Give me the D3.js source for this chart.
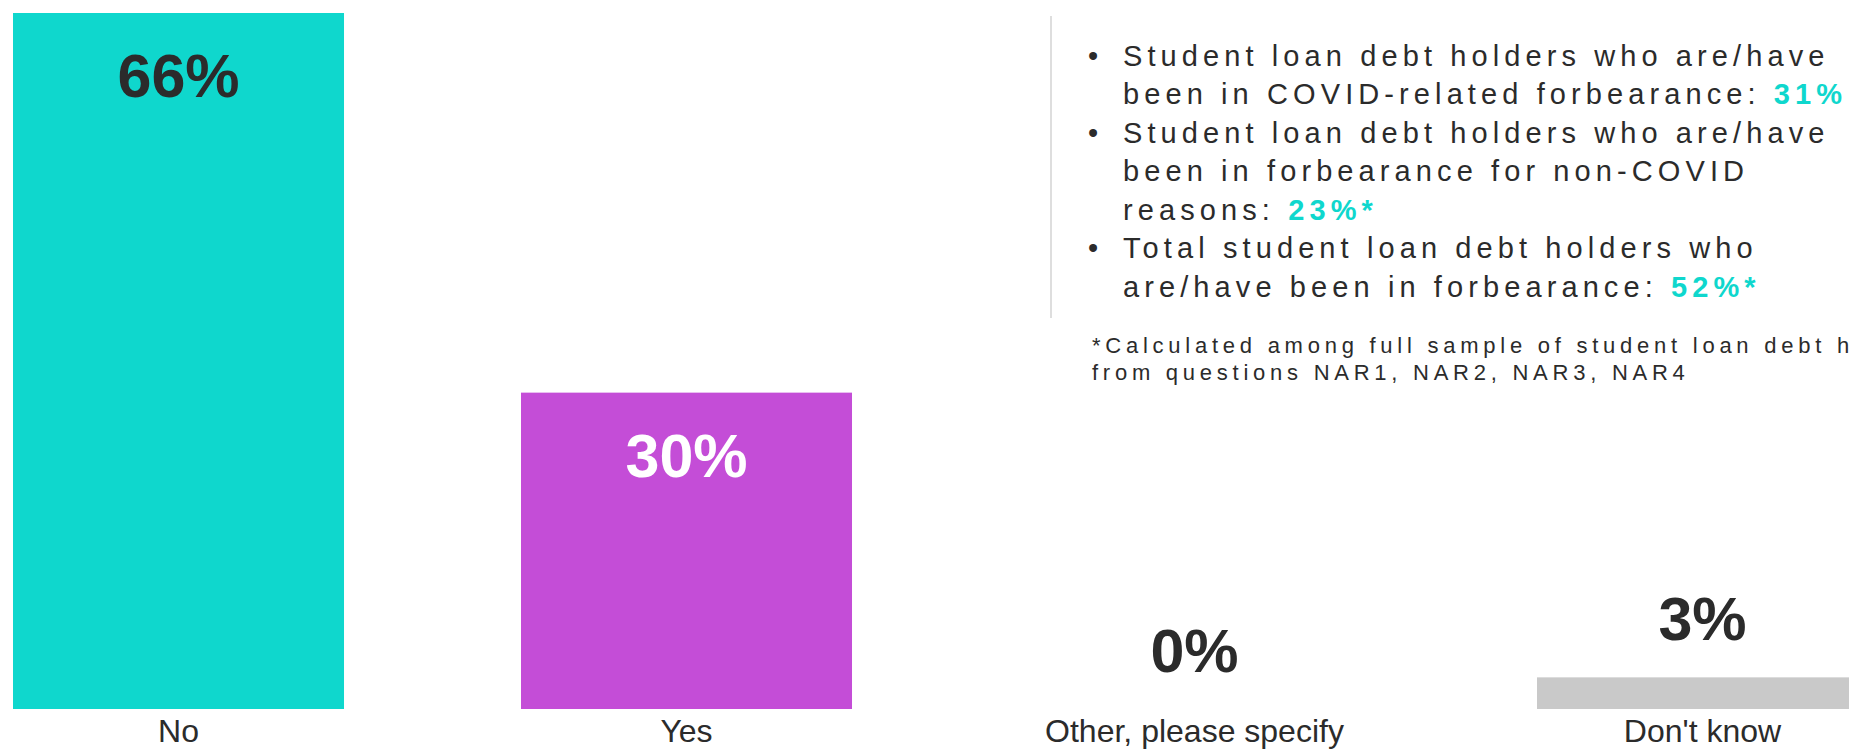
<!DOCTYPE html>
<html>
<head>
<meta charset="utf-8">
<script src="https://cdn.jsdelivr.net/npm/d3@7"></script>
<style>
  html, body { margin: 0; padding: 0; background: #fff; overflow: hidden; }
  svg { display: block; font-family: "Liberation Sans", Arial, sans-serif; }
</style>
</head>
<body>
<svg id="chart" width="1849" height="749"></svg>
<script>
// Survey answers and their shares (%)
const categories = ["No", "Yes", "Other, please specify", "Don't know"];
const shares = [66, 30, 0, 3];
const barColors = ["#0fd7cd", "#c44dd7", "#c9c9c9", "#c9c9c9"];
const labelColors = ["#2b2b2b", "#ffffff", "#2b2b2b", "#2b2b2b"];

// Side notes: plain text lines, with a highlighted figure on some lines
const noteLines = [
  { bullet: true,  text: "Student loan debt holders who are/have", figure: null },
  { bullet: false, text: "been in COVID-related forbearance: ", figure: "31%" },
  { bullet: true,  text: "Student loan debt holders who are/have", figure: null },
  { bullet: false, text: "been in forbearance for non-COVID", figure: null },
  { bullet: false, text: "reasons: ", figure: "23%*" },
  { bullet: true,  text: "Total student loan debt holders who", figure: null },
  { bullet: false, text: "are/have been in forbearance: ", figure: "52%*" }
];
const footnoteLines = [
  "*Calculated among full sample of student loan debt holders",
  "from questions NAR1, NAR2, NAR3, NAR4"
];

const teal = "#0fd7cd";
const ink = "#2b2b2b";

const svg = d3.select("#chart");

const x = d3.scaleBand()
  .domain(categories)
  .range([13, 1868])
  .paddingInner(0.3484)
  .paddingOuter(0);

const y = d3.scaleLinear()
  .domain([0, 66])
  .range([709, 13]);

const data = categories.map((c, i) => ({ cat: c, v: shares[i], color: barColors[i], lc: labelColors[i] }));

// Bars
svg.append("g")
  .selectAll("rect")
  .data(data)
  .join("rect")
  .attr("x", d => x(d.cat))
  .attr("y", d => y(d.v))
  .attr("width", x.bandwidth())
  .attr("height", d => y(0) - y(d.v))
  .attr("fill", d => d.color);

// Value labels: inside tall bars, above short ones
svg.append("g")
  .selectAll("text")
  .data(data)
  .join("text")
  .attr("x", d => x(d.cat) + x.bandwidth() / 2)
  .attr("y", d => (y(0) - y(d.v) > 150) ? y(d.v) + 84 : y(d.v) - 37)
  .attr("text-anchor", "middle")
  .attr("font-size", 61)
  .attr("font-weight", "bold")
  .attr("fill", d => (y(0) - y(d.v) > 150) ? d.lc : ink)
  .text(d => d.v + "%");

// Category axis labels
const xAxis = d3.axisBottom(x).tickSize(0).tickPadding(0);
const axisG = svg.append("g")
  .attr("transform", `translate(0, ${y(0)})`)
  .call(xAxis);
axisG.select(".domain").remove();
axisG.selectAll("text")
  .attr("y", 33)
  .attr("dy", null)
  .attr("font-family", "\"Liberation Sans\", Arial, sans-serif")
  .attr("font-size", 32)
  .attr("fill", ink);

// Divider next to the notes
svg.append("line")
  .attr("x1", 1051).attr("x2", 1051)
  .attr("y1", 16).attr("y2", 318)
  .attr("stroke", "#d3d3d3")
  .attr("stroke-width", 1.5);

// Notes
const notes = svg.append("g")
  .attr("font-size", 29)
  .attr("letter-spacing", "5.1px")
  .attr("fill", ink);

noteLines.forEach((ln, i) => {
  const base = 65.5 + i * 38.5;
  if (ln.bullet) {
    notes.append("text")
      .attr("x", 1093).attr("y", base)
      .attr("text-anchor", "middle")
      .attr("letter-spacing", "0px")
      .text("\u2022");
  }
  const t = notes.append("text").attr("x", 1123).attr("y", base);
  t.append("tspan").attr("xml:space", "preserve").text(ln.text);
  if (ln.figure) {
    t.append("tspan")
      .attr("fill", teal)
      .attr("font-weight", "bold")
      .text(ln.figure);
  }
});

// Footnote
svg.append("g")
  .attr("font-size", 22)
  .attr("letter-spacing", "4.75px")
  .attr("fill", ink)
  .selectAll("text")
  .data(footnoteLines)
  .join("text")
  .attr("x", 1092)
  .attr("y", (d, i) => 353 + i * 27)
  .text(d => d);
</script>
</body>
</html>
